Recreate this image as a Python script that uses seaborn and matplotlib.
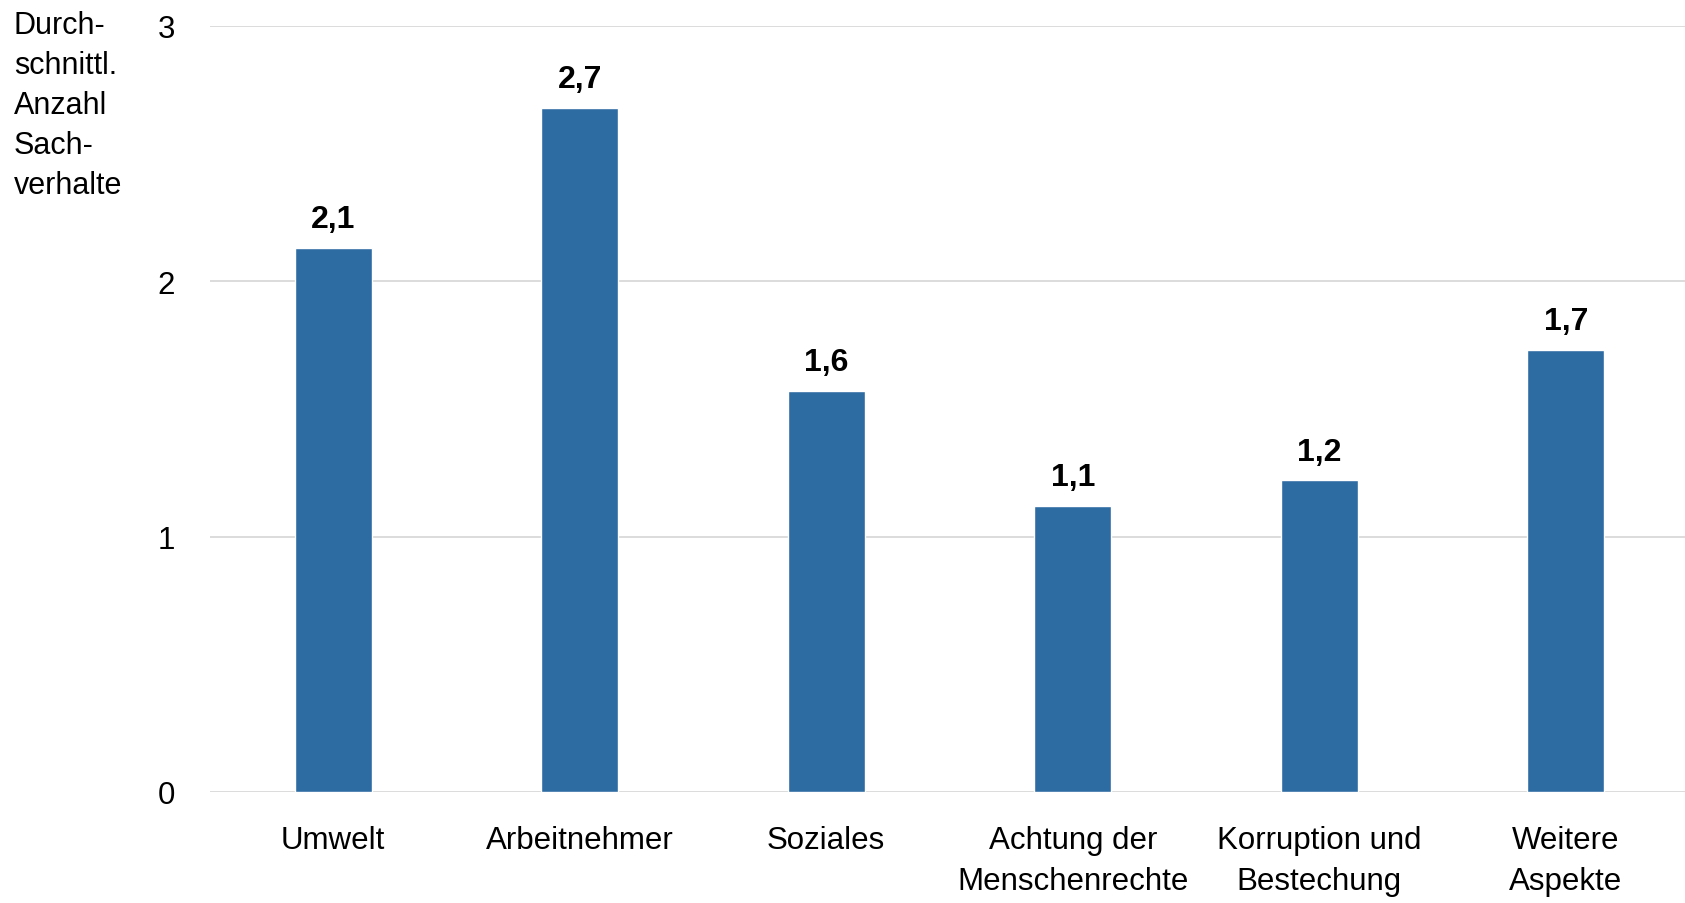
import matplotlib
matplotlib.use("Agg")
import matplotlib.pyplot as plt
import seaborn as sns
import pandas as pd

categories = ["Umwelt", "Arbeitnehmer", "Soziales", "Achtung der\nMenschenrechte",
              "Korruption und\nBestechung", "Weitere\nAspekte"]
values = [2.13, 2.68, 1.57, 1.12, 1.22, 1.73]
yticks = [0, 1, 2, 3]
ylabel = "Durch-\nschnittl.\nAnzahl\nSach-\nverhalte"

sns.set_theme(style="white")
plt.rcParams["font.family"] = ["Liberation Sans Narrow", "Liberation Sans", "DejaVu Sans"]

df = pd.DataFrame({"Kategorie": categories, "Wert": values})

fig = plt.figure(figsize=(16.85, 9.04), dpi=100)
ax = fig.add_axes([210 / 1685, 111 / 904, 1 - 210 / 1685, (877 - 111) / 904])

sns.barplot(data=df, x="Kategorie", y="Wert", color="#2D6BA3", saturation=1,
            width=0.312, ax=ax, zorder=3)

ax.set_ylim(0, 3)
ax.set_xlim(-0.5, 5.484)
ax.set_yticks(yticks)
ax.set_yticklabels([str(t) for t in yticks])
ax.yaxis.grid(True, color="#D9D9D9", linewidth=1.3)
ax.set_axisbelow(True)
for s in ax.spines.values():
    s.set_visible(False)
ax.tick_params(axis="both", length=0, labelsize=22.5, colors="black")
ax.tick_params(axis="y", pad=25)
ax.tick_params(axis="x", pad=24)
ax.set_xlabel("")
ax.set_ylabel("")
for lbl in ax.get_xticklabels():
    lbl.set_linespacing(1.48)

# value labels above each bar, German decimal comma
for i, v in enumerate(values):
    ax.annotate(f"{v:.1f}".replace(".", ","), xy=(i, v), xytext=(0, 15),
                textcoords="offset points", ha="center", va="baseline",
                fontsize=23, fontweight="bold", color="black")

fig.text(14 / 1685, 1 - 194 / 904, ylabel, ha="left", va="baseline", fontsize=22,
         linespacing=1.44, color="black")

fig.savefig("out.png", dpi=100, facecolor="white")
